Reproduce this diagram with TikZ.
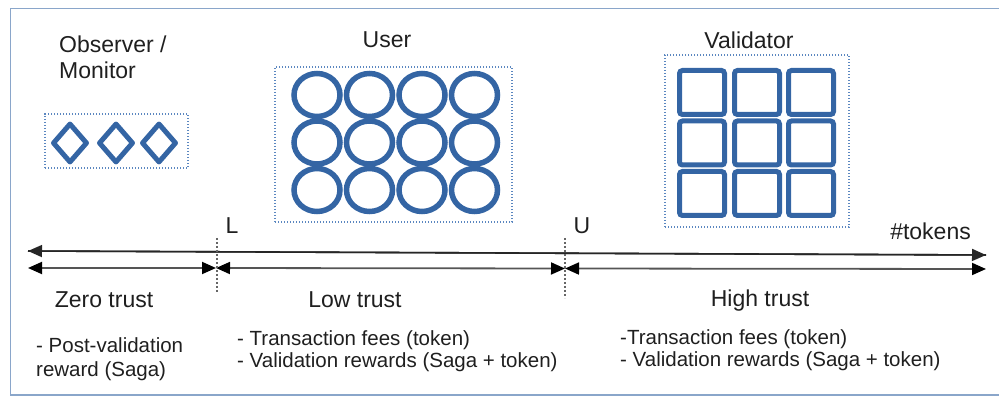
\documentclass[tikz,border=0pt]{standalone}
\usepackage{fontspec}
\setmainfont{Liberation Sans}
\usetikzlibrary{shapes.geometric,arrows.meta}
\definecolor{lblue}{HTML}{3465A4}
\definecolor{dotblue}{HTML}{5B87C0}
\definecolor{framec}{HTML}{8AA6CA}
\definecolor{axisc}{HTML}{555555}
\begin{document}
\begin{tikzpicture}[x=1pt,y=-1pt,
  txt/.style={font=\fontsize{20.5}{22}\selectfont, inner sep=0pt, text=black!88},
  lab/.style={font=\fontsize{23}{26}\selectfont, inner sep=0pt, text=black!88},
  dotbox/.style={draw=dotblue, line width=1.4pt, dash pattern=on 1.4pt off 1.6pt, inner sep=0pt},
  dia/.style={diamond, draw=lblue, line width=5pt, line join=round, minimum width=35pt, minimum height=40pt, inner sep=0pt},
  circ/.style={ellipse, draw=lblue, line width=5.5pt, minimum width=46pt, minimum height=43pt, inner sep=0pt},
  sq/.style={rectangle, rounded corners=3pt, draw=lblue, line width=5pt, minimum width=45pt, minimum height=44pt, inner sep=0pt},
  tip/.style={Triangle[length=14pt,width=12pt,color=black]},
  axis/.style={draw=axisc, line width=1.8pt, {Triangle[length=14pt,width=12pt,color=black]}-{Triangle[length=14pt,width=12pt,color=black]}},
  vdot/.style={draw=black!60, line width=1.6pt, dash pattern=on 1.6pt off 2.4pt}
]
\useasboundingbox (0,0) rectangle (999,398);
% frame
\draw[framec, line width=1.4pt] (999,8.5) -- (10.5,8.5) -- (10.5,395) -- (999,395);

% observer
\node[lab, align=left, anchor=north west] (obs) at (59,36) {Observer /\\Monitor};
\node[dotbox, minimum width=143pt, minimum height=54pt] (obox) at (116.5,141) {};
\foreach \i/\x in {1/70,2/116,3/159} \node[dia] (d\i) at (\x,143) {};

% user
\node[lab] (user) at (387,40) {User};
\node[dotbox, minimum width=237pt, minimum height=155pt] (ubox) at (393.5,144.5) {};
\foreach \r/\y in {1/95,2/142.5,3/190}
  \foreach \c/\x in {1/317,2/369.5,3/422,4/474.5}
    \node[circ] (c\r\c) at (\x,\y) {};

% validator
\node[lab] (val) at (749,40) {Validator};
\node[dotbox, minimum width=184pt, minimum height=172pt] (vbox) at (757,141) {};
\foreach \r/\y in {1/92.5,2/143,3/193.5}
  \foreach \c/\x in {1/702,2/757,3/811}
    \node[sq] (s\r\c) at (\x,\y) {};

% axis
\coordinate (a0) at (28,251);
\coordinate (a1) at (986,255);
\coordinate (b0) at (28,268);
\coordinate (bl) at (216,268);
\coordinate (bu) at (565,268.5);
\coordinate (b1) at (986,269);
\draw[draw=black!85, line width=1.6pt, -{Triangle[length=14pt,width=12pt]}] (a1) -- (a0);
\draw[draw=black!85, line width=1.6pt, -{Triangle[length=14pt,width=12pt]}] (a0) -- (a1);
\draw[axis] (b0) -- (bl);
\draw[axis] (bl) -- (bu);
\draw[axis] (bu) -- (b1);

\coordinate (lt) at (217,238); \coordinate (lb) at (217,293);
\coordinate (ut) at (565,238); \coordinate (ub) at (565,298);
\draw[vdot] (lt) -- (lb);
\draw[vdot] (ut) -- (ub);

\node[lab] (L) at (232,226) {L};
\node[lab] (U) at (582,226) {U};
\node[lab, anchor=east] (tok) at (971,231) {\#tokens};

\node[lab] (zero) at (104,300) {Zero trust};
\node[lab] (low) at (355,300) {Low trust};
\node[lab] (high) at (760,301) {High trust};

\node[txt, align=left, anchor=north west, font=\fontsize{20.5}{24}\selectfont] (zt) at (36,337) {- Post-validation\\reward (Saga)};
\node[txt, align=left, anchor=north west] (lt2) at (237,330) {- Transaction fees (token)\\- Validation rewards (Saga + token)};
\node[txt, align=left, anchor=north west] (ht) at (620,329) {-Transaction fees (token)\\- Validation rewards (Saga + token)};
\end{tikzpicture}
\end{document}
